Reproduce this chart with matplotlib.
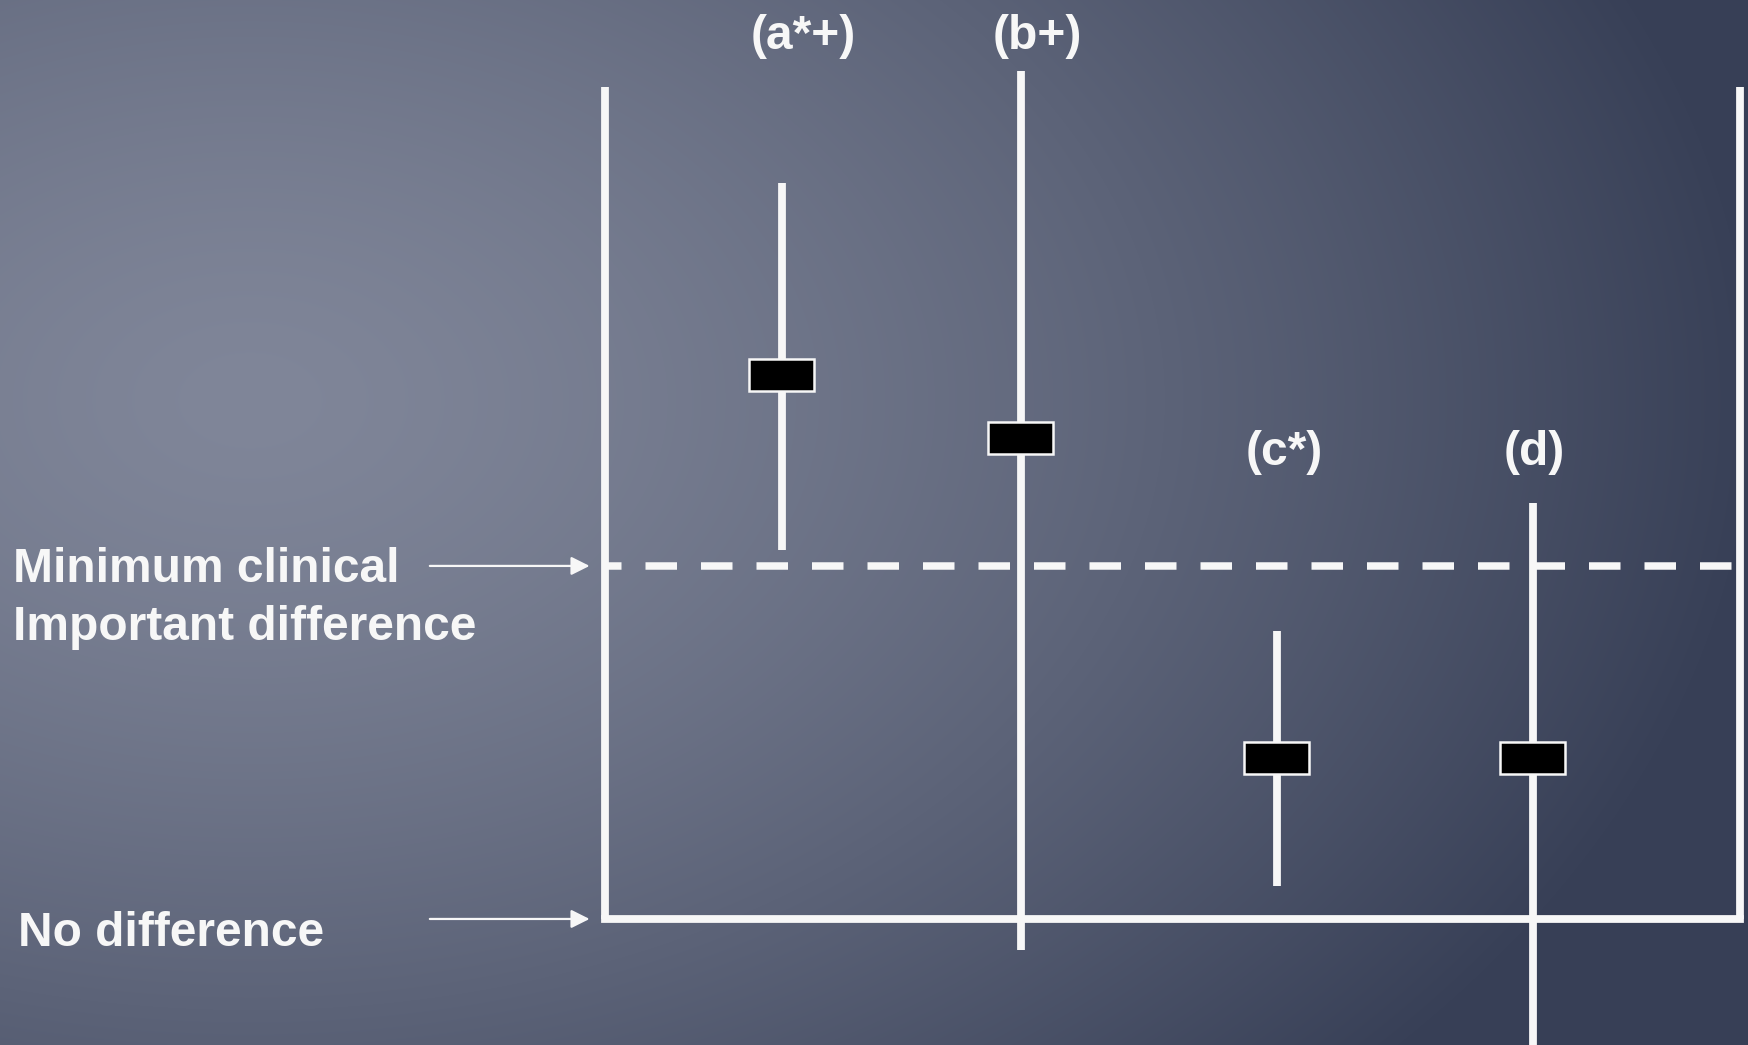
import numpy as np
import matplotlib
matplotlib.use("Agg")
import matplotlib.pyplot as plt
from matplotlib.patches import Rectangle

# data: 0 = no difference, 1 = minimum clinically important difference
labels = ["(a*+)", "(b+)", "(c*)", "(d)"]
xpos = [0.69, 1.625, 2.625, 3.625]
estimate = [1.54, 1.363, 0.456, 0.456]
ci_low = [1.045, -0.088, 0.093, -0.45]
ci_high = [2.085, 2.402, 0.816, 1.178]
label_dx = [0.085, 0.062, 0.03, 0.005]
label_y = [2.50, 2.50, 1.321, 1.321]

frame_left, frame_right, frame_top = 0.0, 4.434, 2.357
mcid = 1.0
nodiff = 0.0

W, H = 1748, 1045
xlim = (-2.363, 4.465)
ylim = (-0.357, 2.603)

plt.rcParams['font.family'] = ['Liberation Sans', 'DejaVu Sans']
fig = plt.figure(figsize=(W / 100, H / 100), dpi=100)
ax = fig.add_axes([0, 0, 1, 1])
ax.set_xlim(*xlim)
ax.set_ylim(*ylim)
ax.axis('off')

# background gradient (bright spot upper left, dark to the right)
yy, xx = np.mgrid[0:H, 0:W]
t = np.sqrt(((xx - 250) / 1500.0) ** 2 + ((yy - 400) / 1000.0) ** 2)
t = np.clip(t, 0, 1) ** 1.4
light = np.array([128, 134, 153]) / 255.0
dark = np.array([56, 64, 87]) / 255.0
bg = light[None, None, :] + (dark - light)[None, None, :] * t[..., None]
ax.imshow(bg, extent=(xlim[0], xlim[1], ylim[0], ylim[1]), aspect='auto',
          origin='upper', zorder=0)

white = '#f7f7f7'
lw = 5.6
fs = 34.5

# frame
ax.plot([frame_left, frame_left], [nodiff, frame_top], color=white, lw=lw,
        solid_capstyle='butt', zorder=2)
ax.plot([frame_right, frame_right], [nodiff, frame_top], color=white, lw=lw,
        solid_capstyle='butt', zorder=2)
ax.plot([frame_left, frame_right], [nodiff, nodiff], color=white, lw=lw,
        solid_capstyle='projecting', zorder=2)
ax.plot([frame_left, frame_right + 0.03], [mcid, mcid], color=white, lw=5.4,
        linestyle=(2.0, (4.2, 3.2)), dash_capstyle='butt', zorder=2)

# confidence intervals and point estimates
bw, bh = 0.254, 0.091
for i in range(len(xpos)):
    ax.plot([xpos[i], xpos[i]], [ci_low[i], ci_high[i]], color=white, lw=lw,
            solid_capstyle='butt', zorder=3)
    ax.add_patch(Rectangle((xpos[i] - bw / 2, estimate[i] - bh / 2), bw, bh,
                           facecolor='black', edgecolor=white, lw=1.8, zorder=4))
    ax.text(xpos[i] + label_dx[i], label_y[i], labels[i], color=white,
            fontsize=fs, fontweight='bold', ha='center', va='center', zorder=5)

# left annotations
for yv in [mcid, nodiff]:
    ax.annotate('', xy=(-0.06, yv), xytext=(-0.684, yv),
                arrowprops=dict(arrowstyle='-|>', color=white, lw=1.6,
                                mutation_scale=28, shrinkA=0, shrinkB=0),
                zorder=5)
ax.text(-2.3125, mcid - 0.01, "Minimum clinical", color=white, fontsize=fs,
        fontweight='bold', ha='left', va='center')
ax.text(-2.3125, 0.826, "Important difference", color=white, fontsize=fs,
        fontweight='bold', ha='left', va='center')
ax.text(-2.293, -0.041, "No difference", color=white, fontsize=fs,
        fontweight='bold', ha='left', va='center')

fig.savefig("out.png", dpi=100)
